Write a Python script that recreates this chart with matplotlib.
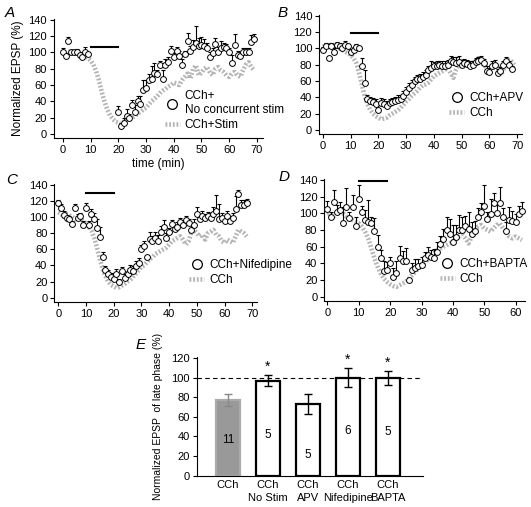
import numpy as np
import matplotlib
matplotlib.use("Agg")
import matplotlib.pyplot as plt
from matplotlib.lines import Line2D

plt.rcParams["font.family"] = ["Liberation Sans", "DejaVu Sans"]
plt.rcParams["font.size"] = 8

# ---- Panel A: CCh + no concurrent stim (no points during 10-20 min) ----
a_t = list(range(0, 10)) + list(range(20, 70))
a_y = [100, 96, 114, 100, 100, 101, 97, 95, 100, 98,
       27, 10, 14, 22, 19, 35, 27, 41, 37, 54,
       56, 66, 68, 75, 74, 84, 68, 84, 88, 102,
       94, 102, 96, 84, 98, 114, 102, 107, 111, 108,
       109, 108, 105, 95, 99, 110, 101, 106, 107, 106,
       101, 87, 109, 97, 96, 100, 101, 100, 113, 117]
a_err = [6, 3, 5, 3, 3, 3, 3, 3, 7, 3,
         7, 3, 6, 8, 6, 7, 8, 6, 10, 12,
         10, 8, 15, 12, 5, 6, 10, 8, 6, 6,
         6, 5, 6, 8, 4, 10, 6, 8, 22, 10,
         10, 8, 7, 6, 6, 8, 6, 8, 5, 4,
         4, 10, 14, 5, 4, 6, 4, 6, 8, 6]
a_gray = [100, 98, 100, 102, 100, 99, 98, 97, 95, 93,
          90, 85, 77, 66, 52, 40, 30, 23, 18, 15,
          14, 13, 15, 17, 18, 20, 22, 25, 27, 30,
          32, 36, 40, 43, 46, 50, 53, 55, 58, 60,
          63, 62, 60, 66, 70, 74, 68, 80, 84, 72,
          75, 80, 82, 76, 72, 80, 82, 78, 76, 72,
          70, 74, 76, 72, 70, 78, 85, 88, 82, 78]

# ---- Panel B: CCh + APV ----
b_y = [98, 103, 88, 103, 96, 104, 103, 100, 104, 103,
       95, 98, 102, 100, 78, 58, 38, 35, 34, 32,
       25, 33, 32, 29, 33, 34, 35, 37, 38, 42,
       47, 52, 55, 60, 62, 63, 65, 68, 73, 76,
       78, 79, 80, 79, 79, 80, 84, 83, 82, 83,
       80, 82, 81, 79, 80, 83, 84, 86, 82, 72,
       71, 78, 80, 70, 72, 80, 84, 80, 75]
b_err = [4, 4, 3, 4, 4, 4, 4, 5, 5, 3,
         4, 4, 4, 3, 10, 16, 5, 5, 5, 6,
         5, 6, 6, 6, 5, 5, 6, 6, 5, 6,
         6, 5, 6, 5, 5, 6, 6, 5, 6, 8,
         5, 5, 5, 6, 5, 6, 7, 6, 7, 8,
         6, 5, 5, 5, 5, 5, 6, 5, 5, 6,
         5, 6, 6, 5, 5, 5, 6, 5, 4]
b_gray = [102, 104, 103, 105, 104, 103, 100, 98, 96, 94,
          92, 88, 82, 70, 56, 42, 32, 25, 20, 17,
          15, 13, 14, 15, 18, 20, 22, 24, 27, 31,
          35, 38, 42, 45, 48, 52, 55, 56, 58, 62,
          66, 68, 70, 72, 74, 76, 70, 64, 74, 80,
          84, 82, 82, 78, 82, 84, 88, 82, 80, 76,
          72, 74, 80, 78, 68, 72, 84, 86, 84, 80]

# ---- Panel C: CCh + Nifedipine ----
c_y = [118, 111, 102, 99, 97, 91, 111, 99, 101, 90,
       111, 90, 104, 97, 86, 75, 51, 34, 29, 25,
       23, 29, 19, 33, 24, 29, 34, 33, 39, 43,
       60, 64, 50, 73, 70, 74, 70, 81, 88, 74,
       82, 91, 85, 88, 94, 90, 96, 92, 84, 90,
       104, 98, 101, 99, 101, 99, 104, 107, 98, 99,
       95, 101, 95, 99, 110, 129, 115, 115, 117]
c_err = [3, 5, 5, 4, 4, 4, 5, 5, 4, 5,
         6, 5, 6, 8, 12, 13, 6, 5, 5, 6,
         6, 6, 4, 5, 5, 4, 6, 6, 7, 6,
         5, 6, 2, 8, 6, 7, 8, 8, 8, 6,
         5, 5, 4, 6, 5, 6, 5, 6, 6, 7,
         8, 5, 6, 5, 5, 6, 8, 20, 18, 6,
         5, 6, 5, 6, 16, 5, 6, 6, 5]
c_gray = [106, 104, 100, 104, 102, 100, 98, 96, 98, 95,
          92, 88, 83, 74, 62, 48, 36, 27, 20, 16,
          14, 12, 13, 15, 17, 20, 22, 26, 30, 34,
          38, 40, 44, 48, 50, 54, 56, 58, 60, 62,
          66, 70, 72, 74, 76, 72, 66, 70, 80, 84,
          80, 76, 78, 72, 80, 82, 84, 78, 76, 70,
          68, 72, 70, 68, 76, 84, 82, 80, 76]

# ---- Panel D: CCh + BAPTA ----
d_y = [105, 96, 114, 102, 104, 88, 108, 94, 107, 85,
       117, 101, 92, 89, 88, 79, 60, 46, 31, 32,
       40, 24, 29, 47, 43, 43, 20, 32, 35, 37,
       38, 46, 50, 48, 47, 54, 63, 69, 80, 75,
       66, 72, 80, 80, 85, 81, 75, 79, 96, 102,
       109, 93, 99, 112, 100, 112, 96, 79, 92, 91,
       89, 99, 103]
d_err = [10, 5, 14, 8, 10, 20, 22, 8, 15, 10,
         17, 8, 12, 27, 8, 15, 14, 10, 12, 10,
         8, 10, 14, 14, 12, 15, 2, 8, 10, 8,
         10, 8, 10, 8, 10, 12, 10, 12, 15, 18,
         20, 14, 18, 15, 12, 20, 15, 12, 10, 10,
         25, 8, 18, 12, 12, 20, 10, 10, 15, 12,
         10, 10, 10]
d_gray = [98, 100, 96, 102, 104, 100, 96, 94, 92, 90,
          88, 84, 78, 70, 58, 46, 36, 28, 22, 18,
          15, 13, 12, 14, 16, 18, 22, 26, 30, 34,
          38, 42, 44, 48, 52, 56, 58, 60, 62, 64,
          66, 70, 72, 74, 70, 64, 72, 80, 84, 86,
          82, 80, 78, 82, 86, 88, 82, 78, 72, 70,
          72, 70, 68]

# drug application bars: (start, end, level)
a_bar = (10, 20, 107)
b_bar = (10, 20, 119)
c_bar = (10, 20, 130)
d_bar = (10, 19, 139)

# ---- Panel E ----
e_labels = ["CCh", "CCh\nNo Stim", "CCh\nAPV", "CCh\nNifedipine", "CCh\nBAPTA"]
e_mean = [77, 97, 73, 100, 100]
e_err = [6, 6, 10, 10, 7]
e_n = ["11", "5", "5", "6", "5"]
e_n_y = [36, 42, 21, 46, 45]
e_star = [False, True, False, True, True]

GRAY = "#b5b5b5"


def serie(ax, t, y, err, gray, bar, leg, bbox, xticks):
    tg = np.arange(len(gray))
    ax.plot(tg, gray, color=GRAY, lw=3.3, ls=(0, (0.4, 0.4)),
            dash_capstyle="butt", zorder=1)
    t = np.asarray(t)
    y = np.asarray(y)
    top = y + np.asarray(err)
    ax.vlines(t, y, top, color="black", lw=0.8, zorder=2)
    ax.plot(t, top, ls="none", marker="_", ms=3.2, mew=0.8, color="black", zorder=2)
    ax.plot(t, y, ls="none", marker="o", ms=4.2, mfc="white", mec="black",
            mew=0.7, zorder=3)
    ax.plot(bar[:2], [bar[2], bar[2]], color="black", lw=1.5)
    h1 = Line2D([], [], ls="none", marker="o", ms=7, mfc="white", mec="black", mew=0.9)
    h2 = Line2D([], [], color=GRAY, lw=3.3, ls=(0, (0.4, 0.4)), dash_capstyle="butt")
    ax.legend([h1, h2], leg, loc="upper left", bbox_to_anchor=bbox, frameon=False,
              borderpad=0, borderaxespad=0, handlelength=1.3, handletextpad=0.4,
              labelspacing=0.25, fontsize=8.5)
    ax.set_ylim(-5, 141)
    ax.set_yticks(range(0, 141, 20))
    ax.set_xticks(xticks)
    for s in ["top", "right"]:
        ax.spines[s].set_visible(False)
    ax.tick_params(direction="out", length=3, width=0.8, labelsize=8, pad=2)


fig = plt.figure(figsize=(5.31, 5.07), dpi=100)

axA = fig.add_axes([0.1017, 0.7278, 0.3936, 0.2347])
serie(axA, a_t, a_y, a_err, a_gray, a_bar,
      ["CCh+\nNo concurrent stim", "CCh+Stim"], (0.53, 0.40), range(0, 71, 10))
axA.set_xlim(-3.2, 72.2)
axA.set_ylabel("Normalized EPSP (%)", fontsize=8.5, labelpad=3)
axA.set_xlabel("time (min)", fontsize=8.5, labelpad=2)

axB = fig.add_axes([0.601, 0.7357, 0.3817, 0.2347])
serie(axB, range(len(b_y)), b_y, b_err, b_gray, b_bar,
      ["CCh+APV", "CCh"], (0.64, 0.35), range(0, 71, 10))
axB.set_xlim(-1.4, 71.7)

axC = fig.add_axes([0.1023, 0.405, 0.3817, 0.2321])
serie(axC, range(len(c_y)), c_y, c_err, c_gray, c_bar,
      ["CCh+Nifedipine", "CCh"], (0.665, 0.36), range(0, 71, 10))
axC.set_xlim(-1.4, 71.7)

axD = fig.add_axes([0.6107, 0.4063, 0.378, 0.2406])
serie(axD, range(len(d_y)), d_y, d_err, d_gray, d_bar,
      ["CCh+BAPTA", "CCh"], (0.575, 0.35), range(0, 61, 10))
axD.set_xlim(-1.0, 63)

# bar chart
axE = fig.add_axes([0.371, 0.0617, 0.4256, 0.234])
x = np.arange(len(e_mean))
face = ["#999999"] + ["white"] * (len(e_mean) - 1)
edge = ["#aaaaaa"] + ["black"] * (len(e_mean) - 1)
axE.bar(x, e_mean, width=0.62, color=face, edgecolor=edge, linewidth=1.6, zorder=2)
for i in x:
    c = "#888888" if i == 0 else "black"
    axE.errorbar(i, e_mean[i], yerr=e_err[i], fmt="none", ecolor=c,
                 elinewidth=1.0, capsize=3, capthick=1.0, zorder=3)
    axE.text(i, e_n_y[i], e_n[i], ha="center", va="center", fontsize=8.5)
    if e_star[i]:
        axE.text(i, e_mean[i] + e_err[i] + 1, "*", ha="center", va="bottom",
                 fontsize=10)
axE.axhline(100, color="black", lw=0.8, ls=(0, (4, 3)), zorder=1)
axE.set_xlim(-0.775, 4.875)
axE.set_ylim(0, 121)
axE.set_yticks(range(0, 121, 20))
axE.set_xticks(x)
axE.set_xticklabels(e_labels, fontsize=8, linespacing=1.45)
for s in ["top", "right"]:
    axE.spines[s].set_visible(False)
axE.tick_params(axis="y", direction="out", length=3, width=0.8, labelsize=8, pad=2)
axE.tick_params(axis="x", length=0, pad=3)
axE.set_ylabel("Normalized EPSP  of late phase (%)", fontsize=7.5, labelpad=6)

# panel letters
for lab, (px, py) in zip("ABCDE", [(10, 13), (283, 13), (12, 180), (284, 177), (141, 345)]):
    fig.text(px / 531, 1 - py / 507, lab, fontsize=11, style="italic",
             ha="center", va="center")

fig.savefig("out.png", dpi=100)
